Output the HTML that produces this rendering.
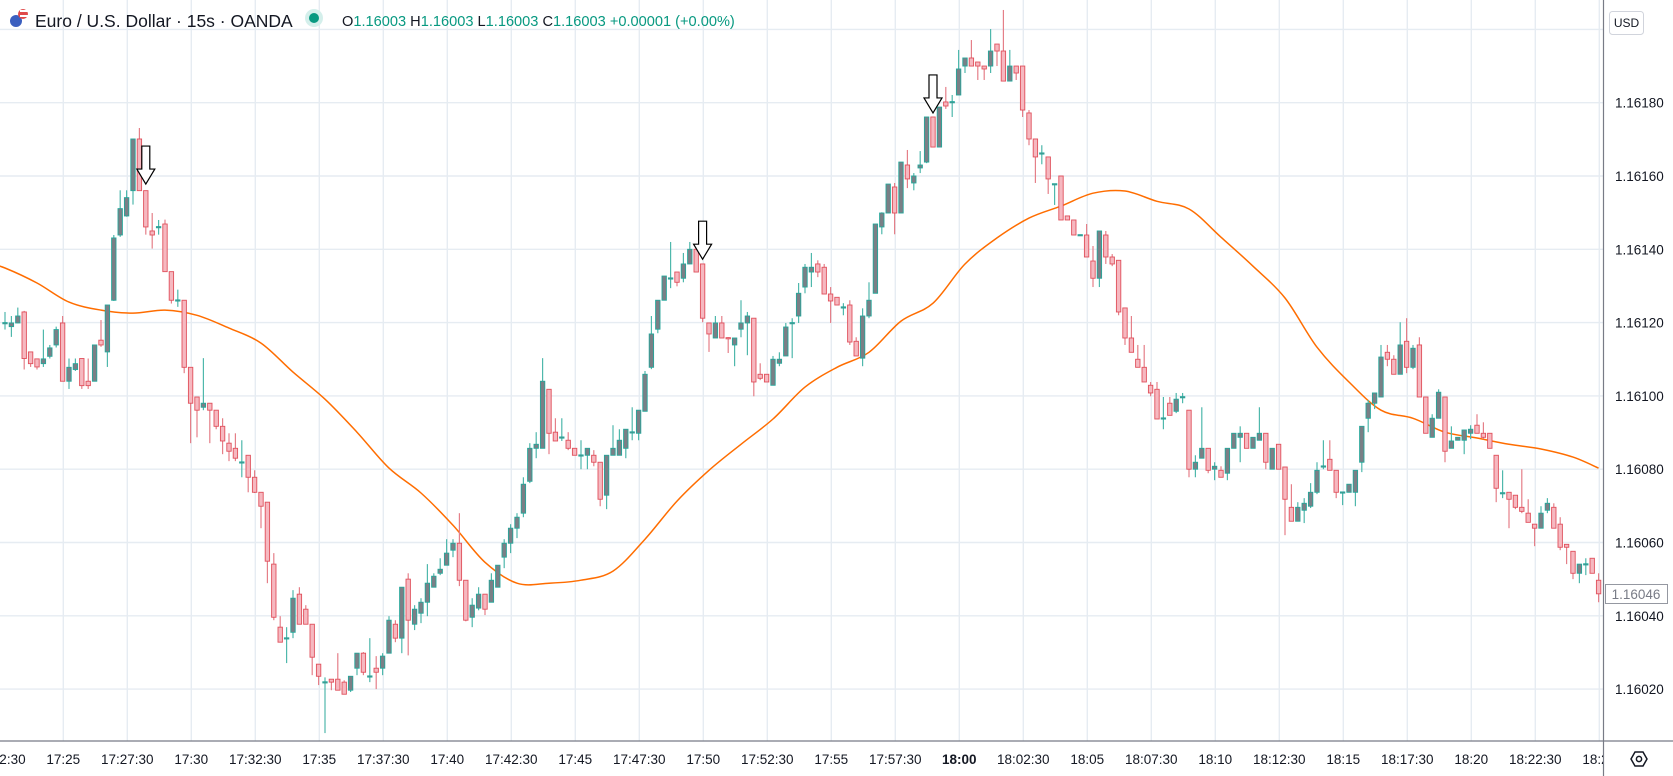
<!DOCTYPE html>
<html><head><meta charset="utf-8"><style>
html,body{margin:0;padding:0;background:#fff;width:1673px;height:776px;overflow:hidden;font-family:"Liberation Sans",sans-serif}
svg{display:block}
</style></head><body>
<svg id="chart" width="1673" height="776" xmlns="http://www.w3.org/2000/svg">
<defs><clipPath id="plotClip"><rect x="0" y="0" width="1603" height="741"/></clipPath></defs>
<g id="grid"></g>
<g id="ma" clip-path="url(#plotClip)"></g>
<g id="candles" clip-path="url(#plotClip)"></g>
<g id="arrows"></g>
<line x1="1603.5" y1="0" x2="1603.5" y2="776" stroke="#787b86" stroke-width="1.2"/>
<line x1="0" y1="741" x2="1673" y2="741" stroke="#787b86" stroke-width="1.2"/>
<g id="yaxis"></g>
<g id="xaxis"></g>
<g>
<rect x="1609.5" y="11.5" width="34" height="23" rx="3" fill="#fff" stroke="#d1d4dc"/>
<text x="1626.5" y="27" font-size="12" text-anchor="middle" fill="#131722">USD</text></g>
<g>
<rect x="1605.5" y="584.5" width="62" height="19" fill="#fff" stroke="#9598a1"/>
<text x="1636" y="599" font-size="13.5" text-anchor="middle" fill="#787b86">1.16046</text></g>
<g transform="translate(1639,759)">
<polygon points="-8,0 -4,-7 4,-7 8,0 4,7 -4,7" fill="none" stroke="#131722" stroke-width="1.5"/>
<circle cx="0" cy="0" r="2.6" fill="none" stroke="#131722" stroke-width="1.5"/></g>
<g>
<g>
<circle cx="16" cy="21" r="6" fill="#3b5fbf"/><circle cx="23" cy="14" r="5" fill="#e04a4a"/>
<rect x="20" y="10" width="8" height="2" fill="#fff"/><rect x="20" y="15" width="8" height="2" fill="#fff"/></g>
<text x="35" y="27" font-size="17.5" fill="#131722">Euro / U.S. Dollar · 15s · OANDA</text>
<circle cx="314" cy="18" r="9" fill="#d4efeb"/><circle cx="314" cy="18" r="5" fill="#089981"/>
<text x="342" y="26" font-size="14.6"><tspan fill="#131722">O</tspan><tspan fill="#089981">1.16003 </tspan><tspan fill="#131722">H</tspan><tspan fill="#089981">1.16003 </tspan><tspan fill="#131722">L</tspan><tspan fill="#089981">1.16003 </tspan><tspan fill="#131722">C</tspan><tspan fill="#089981">1.16003 +0.00001 (+0.00%)</tspan></text>
</g>
</svg>
<script>
// prices in 1e-5 units above 1.16000
const opens=[119.9,118.9,119.9,122.9,112.0,110.1,108.8,110.8,113.9,119.9,104.0,107.2,110.2,104.0,104.0,115.2,112.0,126.1,143.9,149.1,156.0,170.1,156.0,145.0,146.0,146.9,133.9,126.0,126.1,107.8,99.7,96.9,98.0,96.1,91.7,87.1,85.7,81.8,83.8,77.8,73.7,71.0,54.1,36.9,33.8,35.5,45.9,41.8,37.7,26.8,21.8,22.7,22.7,21.9,19.7,25.7,29.8,23.4,25.7,25.7,29.8,37.7,33.9,50.0,37.7,40.7,43.7,47.8,51.6,53.8,57.9,59.8,49.7,39.6,42.1,45.9,43.7,47.8,56.0,59.8,63.9,68.0,76.7,85.7,85.7,101.8,90.1,88.6,87.9,85.7,83.7,83.8,83.8,81.9,72.9,83.8,83.8,85.7,90.0,89.8,95.8,107.8,118.2,126.1,132.0,133.8,132.1,136.0,140.0,136.0,119.9,115.8,119.9,115.9,113.9,118.2,119.9,121.2,105.9,105.9,102.9,108.9,110.9,119.8,121.8,129.7,133.8,136.0,135.1,127.8,126.9,124.1,124.8,114.9,110.3,121.8,128.0,146.1,149.9,157.0,149.9,163.0,158.1,162.2,163.8,176.1,167.9,180.2,180.1,182.1,190.0,192.2,191.1,190.0,190.0,196.0,194.1,185.9,190.0,190.0,177.2,170.1,166.1,165.2,157.7,160.0,149.1,148.0,143.8,143.9,136.8,132.1,143.9,137.9,137.0,124.0,115.8,110.0,107.8,102.9,101.8,93.8,98.0,95.8,99.6,96.1,80.0,83.0,85.7,80.0,79.7,78.9,85.7,88.7,89.8,85.7,87.9,89.8,80.0,86.8,80.6,69.6,65.8,68.8,69.9,73.7,80.7,82.7,79.7,73.6,73.7,73.7,81.9,93.9,98.0,99.7,111.9,110.0,105.9,114.9,107.8,113.9,99.7,88.7,93.9,99.7,85.7,87.9,87.9,89.8,92.0,89.8,89.8,83.8,73.4,73.7,72.9,69.6,68.0,65.0,63.9,68.8,69.6,65.0,59.5,57.6,51.6,54.0,55.7,49.7];
const highs=[122.9,121.8,124.1,123.2,112.0,110.1,118.1,113.9,118.9,121.8,110.2,110.2,110.2,110.2,113.9,120.7,124.8,143.9,156.1,156.1,170.1,173.1,156.0,149.9,148.0,148.1,133.9,129.0,126.1,107.8,99.7,110.3,98.0,96.1,93.9,89.8,89.8,87.9,83.8,79.7,73.7,71.0,57.1,39.9,36.9,47.0,47.8,42.9,37.7,26.8,23.2,22.7,29.8,22.4,23.5,29.8,30.1,33.9,29.0,29.8,39.9,38.8,47.8,51.6,42.9,44.8,54.1,51.6,55.7,60.9,60.9,68.0,49.7,44.8,47.8,45.9,51.6,53.8,60.9,65.0,68.0,77.8,87.1,90.1,110.3,101.8,93.9,93.9,90.1,85.7,87.9,85.7,85.2,81.9,83.8,92.0,90.9,90.9,96.9,96.1,106.8,121.8,126.1,132.7,142.0,133.8,139.0,142.0,141.1,136.0,119.9,121.8,121.8,116.0,115.8,126.1,122.9,121.2,108.9,105.9,110.9,111.9,119.9,121.2,130.8,136.0,139.0,137.0,136.0,129.7,126.9,125.3,126.1,116.0,123.9,131.0,146.9,150.1,157.8,158.1,163.8,167.1,160.8,166.8,176.1,176.1,178.8,184.3,182.1,194.4,192.2,197.1,191.1,190.0,200.1,196.0,205.3,194.4,190.0,190.0,178.0,170.1,168.4,165.2,157.9,160.0,149.1,148.0,144.0,146.9,140.9,145.0,145.0,138.7,137.0,124.0,121.8,113.9,113.9,103.8,103.8,99.7,99.7,100.8,100.8,96.1,83.8,96.9,85.7,81.9,80.8,85.7,89.8,91.7,89.8,88.7,96.9,89.8,85.7,86.8,80.6,75.9,71.0,72.1,76.2,81.9,87.9,87.9,79.7,73.8,75.9,79.7,91.7,98.9,100.8,113.9,113.9,111.1,120.1,121.2,113.9,116.0,99.7,95.0,101.8,99.7,91.7,88.7,90.7,92.0,95.0,92.8,89.8,83.8,79.7,73.7,72.9,80.0,71.8,65.0,69.9,72.1,70.7,66.9,59.5,57.6,54.1,55.7,55.7,51.6];
const lows=[118.1,116.1,119.8,107.2,107.9,107.2,107.9,110.2,113.2,104.0,101.9,106.8,101.9,101.9,104.0,113.4,107.9,125.9,143.4,148.9,152.2,156.0,144.0,140.2,144.0,133.9,125.2,124.3,106.2,87.1,88.7,96.1,87.1,90.9,84.1,82.2,82.2,77.8,73.7,73.5,63.9,48.9,38.8,32.8,27.1,33.9,37.7,37.7,23.8,21.1,8.0,19.7,19.7,18.6,19.2,23.8,23.8,21.9,20.0,23.8,29.8,32.8,29.8,29.2,36.1,38.0,39.9,47.8,51.1,53.8,56.0,48.1,38.5,36.9,41.5,40.2,43.7,47.8,53.0,57.1,61.2,66.9,76.2,83.0,85.7,84.1,87.7,87.7,85.2,83.8,80.0,80.0,80.8,69.9,69.1,83.8,83.8,83.0,87.9,87.9,95.8,107.3,117.1,126.1,129.4,129.9,131.0,136.0,133.8,120.1,112.0,115.8,115.8,111.7,108.1,116.0,111.1,99.9,104.3,103.8,102.9,108.1,110.9,110.3,119.9,128.0,129.7,132.4,127.8,119.9,124.8,122.0,113.9,110.9,108.1,121.2,128.0,144.1,149.9,144.1,149.9,156.7,156.1,160.8,163.5,167.9,167.9,178.3,176.1,182.1,188.1,190.0,186.2,186.2,188.1,190.0,185.9,185.9,186.2,176.1,168.4,158.1,163.2,155.1,152.1,148.0,148.0,143.9,143.8,137.9,129.7,129.7,136.0,135.4,122.0,113.9,111.9,107.8,103.8,99.9,93.7,90.9,94.7,95.3,98.0,77.8,77.8,83.0,78.9,77.0,77.8,77.0,85.7,81.9,85.7,85.7,87.9,80.0,80.0,80.0,62.0,65.8,65.8,65.3,69.4,73.2,80.0,79.7,72.1,70.2,73.7,69.9,79.2,90.1,96.4,99.7,108.1,105.9,105.9,106.2,107.3,99.7,89.8,88.7,93.9,81.9,85.7,87.9,84.1,88.2,89.8,88.2,85.7,71.0,72.1,63.9,69.1,68.0,65.5,59.0,63.9,68.0,63.9,57.9,54.1,50.0,48.9,51.1,51.6,43.7];
const closes=[120.0,119.9,121.8,110.2,108.8,107.9,110.1,113.1,118.1,104.0,107.8,108.8,102.8,102.8,113.9,113.9,124.8,143.1,151.1,154.1,170.1,156.0,146.1,143.9,146.2,133.9,126.1,126.2,107.8,98.0,96.1,98.0,96.1,91.7,87.7,84.9,83.0,82.0,77.8,73.7,69.9,54.9,39.6,32.8,34.0,44.8,37.7,37.7,28.7,23.5,22.0,21.9,19.7,18.6,23.5,29.8,24.6,23.6,24.6,29.0,38.8,33.9,47.8,38.8,41.8,43.7,48.9,50.8,52.7,57.1,59.8,49.7,38.8,42.9,45.9,41.8,49.7,53.8,59.8,63.9,66.9,75.9,85.7,86.8,104.0,89.8,87.7,88.8,85.7,83.8,83.9,85.7,81.9,71.8,83.8,85.7,87.9,90.9,90.2,96.1,105.9,116.9,126.1,132.7,132.2,131.0,136.0,140.0,133.8,121.2,116.9,119.9,115.8,115.7,115.8,119.9,121.8,103.8,104.8,103.8,110.0,110.0,118.8,120.0,128.0,135.1,135.1,133.8,127.8,125.9,124.8,124.3,114.7,110.9,121.8,126.1,146.9,149.9,157.8,149.9,163.8,159.2,160.0,163.0,176.1,167.9,178.8,179.1,180.3,189.2,192.2,190.0,190.0,189.2,194.1,194.1,185.9,190.0,188.1,178.0,170.1,165.2,166.3,159.2,157.9,148.0,148.0,143.9,144.0,137.9,132.1,145.0,137.9,136.0,122.9,115.8,111.9,107.8,103.8,100.8,93.7,94.0,94.7,99.1,99.8,80.0,81.9,85.7,79.7,80.8,77.8,85.7,89.8,89.8,85.7,88.7,89.8,81.9,85.7,80.0,71.8,65.8,69.6,70.7,73.7,79.7,80.9,79.7,73.7,73.8,75.9,79.7,91.7,98.0,100.8,110.6,110.0,105.9,113.9,107.8,113.0,99.7,89.8,93.9,101.0,84.9,87.7,88.7,90.7,90.9,89.8,88.7,85.7,74.8,73.6,71.8,69.6,68.5,65.5,63.9,68.0,70.7,63.9,58.7,58.7,51.6,54.1,54.2,51.6,46.0];
// moving average samples: candle index (1-based) and value
const maIndex=[1,6,11,16,21,26,31,36,41,46,51,56,61,66,71,76,81,86,91,96,101,106,111,116,121,126,131,136,141,146,151,156,161,166,171,176,181,186,191,196,201,206,211,216,221,226,231,236,241,246,250];
const maValues=[134.9,130.8,125.6,123.4,122.6,123.4,122.0,118.5,114.4,106.5,99.1,90.1,80.3,73.5,64.7,54.6,48.9,48.9,49.7,52.2,60.9,71.3,79.7,86.8,93.7,102.4,107.8,111.9,120.4,125.3,136.0,143.1,148.5,151.8,155.3,155.9,153.1,151.0,143.3,135.4,126.7,113.3,103.8,96.1,93.9,90.1,88.5,86.8,85.5,83.3,80.3];
const priceTicks=[180,160,140,120,100,80,60,40,20];
const gridPrices=[200,180,160,140,120,100,80,60,40,20];
const timeLabels=["17:22:30","17:25","17:27:30","17:30","17:32:30","17:35","17:37:30","17:40","17:42:30","17:45","17:47:30","17:50","17:52:30","17:55","17:57:30","18:00","18:02:30","18:05","18:07:30","18:10","18:12:30","18:15","18:17:30","18:20","18:22:30","18:25"];
const arrowIndex=[23,110,146];
const arrowPrice=[157.8,137.3,177.2];

const NS="http://www.w3.org/2000/svg";
function yOf(v){return 176+(160-v)/20*73.3;}
function xOf(i){return 5+6.4*(i-1);}
function xTime(k){return -0.7+64*k;}
function mk(tag,attrs,parent){const e=document.createElementNS(NS,tag);for(const k in attrs)e.setAttribute(k,attrs[k]);parent.appendChild(e);return e;}

const grid=document.getElementById('grid');
gridPrices.forEach(p=>{const l=mk('line',{x1:0,x2:1603,y1:yOf(p),y2:yOf(p),stroke:'#e6ecf2','stroke-width':1.4},grid);

});
timeLabels.forEach((t,k)=>{const x=xTime(k);if(x<1603){const l=mk('line',{x1:x,x2:x,y1:0,y2:741,stroke:'#e6ecf2','stroke-width':1.4},grid);

}});

const yax=document.getElementById('yaxis');
priceTicks.forEach(p=>{const t=mk('text',{x:1615,y:yOf(p)+5,'font-size':13.5,fill:'#131722'},yax);t.textContent=(1.16+p/100000).toFixed(5);

});

const xax=document.getElementById('xaxis');
const xclip=mk('clipPath',{id:'xClip'},document.querySelector('defs'));mk('rect',{x:0,y:741,width:1603,height:35},xclip);
const xg=mk('g',{'clip-path':'url(#xClip)'},xax);
timeLabels.forEach((t,k)=>{const e=mk('text',{x:xTime(k),y:764,'font-size':13.5,'text-anchor':'middle',fill:'#131722','font-weight':t==='18:00'?'bold':'normal'},xg);e.textContent=t;

});

// smooth MA via Catmull-Rom
const ma=document.getElementById('ma');
const pts=[[-10,yOf(maValues[0]+1.2)]].concat(maIndex.map((i,n)=>[xOf(i),yOf(maValues[n])]));
let d='M'+pts[0][0].toFixed(1)+' '+pts[0][1].toFixed(1);
for(let n=0;n<pts.length-1;n++){const p0=pts[Math.max(0,n-1)],p1=pts[n],p2=pts[n+1],p3=pts[Math.min(pts.length-1,n+2)];
const c1x=p1[0]+(p2[0]-p0[0])/6,c1y=p1[1]+(p2[1]-p0[1])/6,c2x=p2[0]-(p3[0]-p1[0])/6,c2y=p2[1]-(p3[1]-p1[1])/6;
d+=`C${c1x.toFixed(1)} ${c1y.toFixed(1)} ${c2x.toFixed(1)} ${c2y.toFixed(1)} ${p2[0].toFixed(1)} ${p2[1].toFixed(1)}`;}
const mp=mk('path',{d:d,fill:'none',stroke:'#ff6d00','stroke-width':1.5,'stroke-linejoin':'round'},ma);



const cg=document.getElementById('candles');
opens.forEach((o,n)=>{const c=closes[n],h=highs[n],l=lows[n],x=xOf(n+1);const up=c>=o;
const g=mk('g',{},cg);


mk('line',{x1:x,x2:x,y1:yOf(h),y2:yOf(l),stroke:up?'#4fb8ac':'#e57f88','stroke-width':1.2},g);
const top=yOf(Math.max(o,c)),bot=yOf(Math.min(o,c));const hgt=Math.max(bot-top,1.2);
mk('rect',{x:x-2.2,y:top,width:4.4,height:hgt,fill:up?'#7b7f86':'#f6b8c0',stroke:up?'#26a69a':'#e0505c','stroke-width':0.9},g);});

const ag=document.getElementById('arrows');
arrowIndex.forEach((i,n)=>{const x=xOf(i),y=yOf(arrowPrice[n]);
const p=mk('path',{d:`M${x-4} ${y-38}H${x+4}V${y-15}H${x+9}L${x} ${y}L${x-9} ${y-15}H${x-4}Z`,fill:'#fff',stroke:'#000','stroke-width':1.2},ag);

});
</script>
</body></html>
